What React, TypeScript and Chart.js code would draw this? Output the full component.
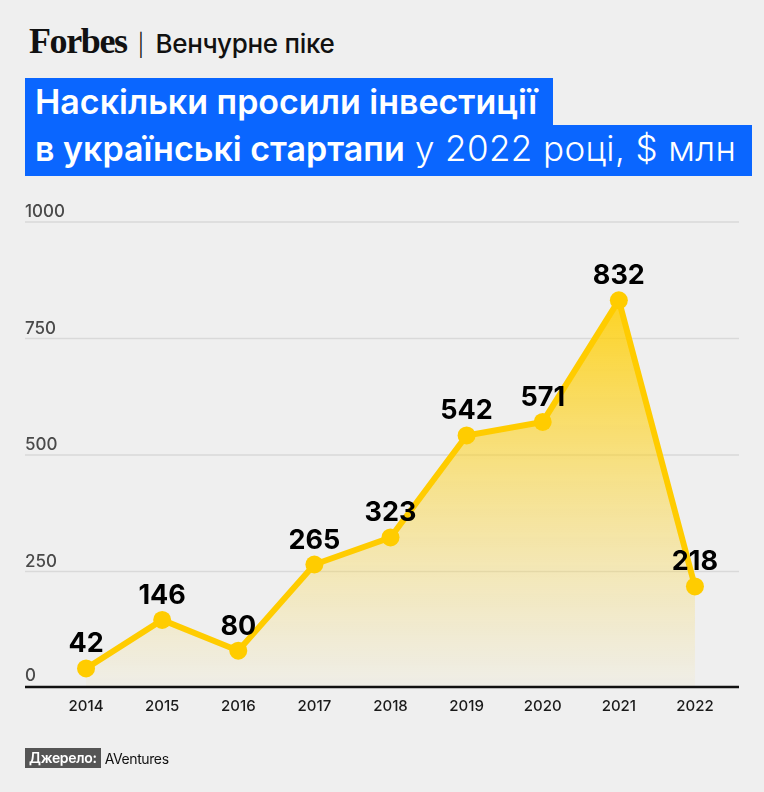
import React, { useEffect, useRef } from "react";
import { Chart, registerables } from "chart.js";

Chart.register(...registerables);

const years = ["2014", "2015", "2016", "2017", "2018", "2019", "2020", "2021", "2022"];
const asked = [42, 146, 80, 265, 323, 542, 571, 832, 218];
const yTicks = [0, 250, 500, 750, 1000];

const YELLOW = "#ffcc00";
const FONT = "Inter, Roboto, 'Noto Sans', sans-serif";

// page offsets of the canvas
const CANVAS_TOP = 190;
const CANVAS_H = 560;

const customDraw = {
  id: "customDraw",
  beforeDatasetsDraw(chart: any) {
    const { ctx } = chart;
    const y = chart.scales.y;
    ctx.save();
    ctx.strokeStyle = "#d9d9d9";
    ctx.lineWidth = 1.5;
    yTicks.forEach((t) => {
      if (t === 0) return;
      const py = y.getPixelForValue(t);
      ctx.beginPath();
      ctx.moveTo(25, py);
      ctx.lineTo(739, py);
      ctx.stroke();
    });
    ctx.fillStyle = "#4a4a4a";
    ctx.font = `500 17px ${FONT}`;
    ctx.textAlign = "left";
    ctx.textBaseline = "alphabetic";
    yTicks.forEach((t) => {
      const py = y.getPixelForValue(t);
      ctx.fillText(String(t), 25, py - (t === 0 ? 7 : 5));
    });
    ctx.restore();
  },
  afterDatasetsDraw(chart: any) {
    const { ctx } = chart;
    const x = chart.scales.x;
    const y = chart.scales.y;
    ctx.save();
    // baseline axis
    ctx.strokeStyle = "#111";
    ctx.lineWidth = 2.5;
    ctx.beginPath();
    ctx.moveTo(25, y.getPixelForValue(0) - 1);
    ctx.lineTo(739, y.getPixelForValue(0) - 1);
    ctx.stroke();
    // x labels
    ctx.fillStyle = "#1a1a1a";
    ctx.font = `500 15px ${FONT}`;
    ctx.textAlign = "center";
    ctx.textBaseline = "alphabetic";
    years.forEach((lab, i) => {
      ctx.fillText(lab, x.getPixelForValue(i), y.getPixelForValue(0) + 23);
    });
    // value labels
    ctx.fillStyle = "#000";
    ctx.font = `700 27px ${FONT}`;
    asked.forEach((v, i) => {
      ctx.fillText(String(v), x.getPixelForValue(i), y.getPixelForValue(v) - 16);
    });
    ctx.restore();
  },
};

function ChartBox() {
  const canvasRef = useRef<HTMLCanvasElement>(null);
  const chartInstance = useRef<Chart | null>(null);

  useEffect(() => {
    if (!canvasRef.current) return;
    if (chartInstance.current) chartInstance.current.destroy();
    const ctx = canvasRef.current.getContext("2d");
    if (!ctx) return;

    chartInstance.current = new Chart(ctx, {
      type: "line",
      data: {
        labels: years,
        datasets: [
          {
            data: asked,
            borderColor: YELLOW,
            borderWidth: 6,
            pointRadius: 9,
            pointBackgroundColor: YELLOW,
            pointBorderWidth: 0,
            fill: "origin",
            tension: 0,
            backgroundColor: (c: any) => {
              const area = c.chart.chartArea;
              if (!area) return "rgba(255,204,0,0.3)";
              const yScale = c.chart.scales.y;
              const g = c.chart.ctx.createLinearGradient(0, yScale.getPixelForValue(832), 0, yScale.getPixelForValue(0));
              g.addColorStop(0, "rgba(255,206,0,0.85)");
              g.addColorStop(1, "rgba(255,215,60,0.04)");
              return g;
            },
          },
        ],
      },
      options: {
        responsive: false,
        animation: false,
        layout: { padding: { left: 48, right: 31, top: 32, bottom: 62 } },
        scales: {
          x: { display: false, offset: true },
          y: { display: false, min: 0, max: 1000 },
        },
        plugins: {
          legend: { display: false },
          tooltip: { enabled: false },
        },
      },
      plugins: [customDraw],
    });

    return () => {
      if (chartInstance.current) {
        chartInstance.current.destroy();
        chartInstance.current = null;
      }
    };
  }, []);

  return (
    <canvas
      ref={canvasRef}
      width={764}
      height={CANVAS_H}
      style={{ position: "absolute", left: 0, top: CANVAS_TOP, width: 764, height: CANVAS_H }}
    />
  );
}

export default function App() {
  const blue = "#0a66ff";
  return (
    <div
      style={{
        position: "fixed",
        left: 0,
        top: 0,
        width: 764,
        height: 792,
        background: "#efefef",
        fontFamily: FONT,
        overflow: "hidden",
      }}
    >
      <div style={{ position: "absolute", left: 29, top: 20, display: "flex", alignItems: "baseline" }}>
        <span
          style={{
            fontFamily: "'Liberation Serif', 'DejaVu Serif', serif",
            fontWeight: 700,
            fontSize: 36,
            letterSpacing: -1.4,
            color: "#111",
          }}
        >
          Forbes
        </span>
        <span style={{ fontSize: 22, color: "#111", margin: "0 11px 0 11px", fontWeight: 300 }}>|</span>
        <span style={{ fontSize: 26, fontWeight: 500, color: "#111", letterSpacing: -0.3 }}>Венчурне піке</span>
      </div>

      <div
        style={{
          position: "absolute",
          left: 25,
          top: 78,
          height: 47,
          width: 528,
          background: blue,
          color: "#fff",
          fontSize: 34,
          fontWeight: 600,
          lineHeight: "48px",
          paddingLeft: 10,
          boxSizing: "border-box",
          whiteSpace: "nowrap",
        }}
      >
        Наскільки просили інвестиції
      </div>
      <div
        style={{
          position: "absolute",
          left: 25,
          top: 125,
          height: 51,
          width: 727,
          background: blue,
          color: "#fff",
          fontSize: 34,
          lineHeight: "47px",
          paddingLeft: 10,
          boxSizing: "border-box",
          whiteSpace: "nowrap",
        }}
      >
        <span style={{ fontWeight: 600 }}>в українські стартапи</span>
        <span style={{ fontWeight: 300, fontSize: 35, letterSpacing: 0.4 }}> у 2022 році, $ млн</span>
      </div>

      <ChartBox />

      <div style={{ position: "absolute", left: 25, top: 748, display: "flex", alignItems: "center", fontSize: 14 }}>
        <span style={{ background: "#555", color: "#fff", fontWeight: 600, padding: "2px 4px", lineHeight: "16px", letterSpacing: -0.3 }}>
          Джерело:
        </span>
        <span style={{ color: "#111", marginLeft: 4, fontWeight: 400, letterSpacing: -0.4 }}>AVentures</span>
      </div>
    </div>
  );
}
